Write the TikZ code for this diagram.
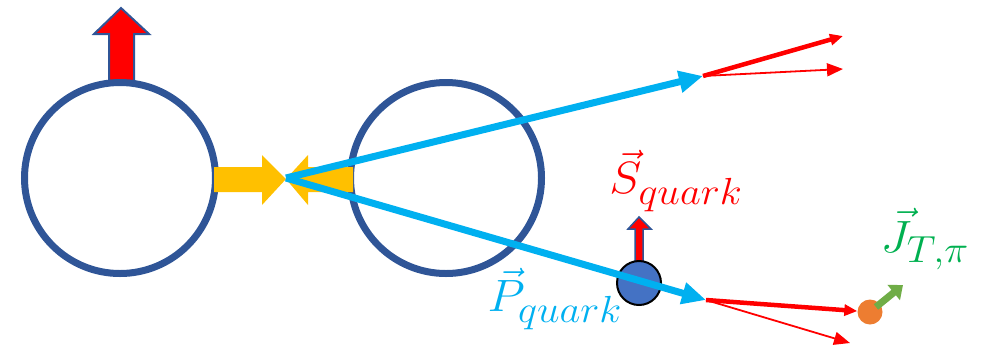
\documentclass[tikz,border=0pt]{standalone}
\usepackage{graphicx}
\usetikzlibrary{arrows.meta}
\definecolor{ringblue}{HTML}{2F5597}
\definecolor{skyblue}{HTML}{00B0F0}
\definecolor{gold}{HTML}{FFC000}
\definecolor{qblue}{HTML}{4472C4}
\definecolor{dotorange}{HTML}{ED7D31}
\definecolor{arrgreen}{HTML}{70AD47}
\definecolor{labgreen}{HTML}{00B050}
\newcommand{\biglab}[1]{\scalebox{1.95}[1.82]{\Huge $#1$}}
\tikzset{
  ring/.style={circle, draw=ringblue, line width=7pt, minimum size=191pt, inner sep=0pt},
  beam/.style={draw=skyblue, line width=7pt, -{Triangle[length=24pt,width=21pt]}, shorten >=0pt},
  jetthick/.style={draw=red, line width=4.5pt, -{Triangle[length=13pt,width=11pt]}},
  jetthin/.style={draw=red, line width=1.8pt, -{Triangle[length=16pt,width=13pt]}},
  yellowarr/.style={fill=gold, draw=none},
  lab/.style={inner sep=0pt},
}
\begin{document}
\begin{tikzpicture}[x=1pt,y=-1pt]
\useasboundingbox (0,0) rectangle (984,349);
% spin arrow on left proton
\filldraw[fill=red, draw=ringblue, line width=2pt, line join=miter]
  (109,84) -- (109,34) -- (94,34) -- (121,8) -- (149,34) -- (134,34) -- (134,84) -- cycle;
% rings
\node[ring] (pL) at (120,178) {};
\node[ring] (pR) at (446,178) {};
% colliding yellow arrows
\fill[yellowarr] (214,167) -- (262,167) -- (262,155) -- (286,179) -- (262,205) -- (262,192) -- (214,192) -- cycle;
\fill[yellowarr] (353,167) -- (308,167) -- (308,155) -- (286,179) -- (308,205) -- (308,192) -- (353,192) -- cycle;
% coordinates
\coordinate (ip) at (286,178);
\coordinate (jU) at (703,76);
\coordinate (jD) at (706,300);
\coordinate (tU1) at (843,36);
\coordinate (tU2) at (843,69);
\coordinate (tD2) at (850,343);
% blue quark beams
\draw[beam] (ip) -- (jU);
% quark with spin
\filldraw[fill=red, draw=ringblue, line width=1.5pt, line join=miter]
  (635,262) -- (635,229) -- (628,229) -- (639,217) -- (651,229) -- (643,229) -- (643,262) -- cycle;
\node[circle, fill=qblue, draw=black, line width=2pt, minimum size=44pt, inner sep=0pt] (q) at (639,283) {};
\draw[beam] (ip) -- (jD);
% jets
\draw[jetthick] (jU) -- (tU1);
\draw[jetthin] (jU) -- (tU2);
\node[circle, fill=dotorange, minimum size=25pt, inner sep=0pt] (pi) at (870,312) {};
\draw[jetthick] (jD) -- (pi);
\draw[jetthin] (jD) -- (tD2);
\coordinate (jT) at (903,285);
\draw[draw=arrgreen, line width=7pt, -{Triangle[length=12pt,width=19pt]}] (pi.center) ++(6,-5) -- (jT);
% labels
\node[lab, text=red] (Sl) at (676,181) {\biglab{\vec{S}_{quark}}};
\node[lab, text=skyblue] (Pl) at (555,299) {\biglab{\vec{P}_{quark}}};
\node[lab, text=labgreen] (Jl) at (925,239) {\biglab{\vec{J}_{T,\pi}}};
\end{tikzpicture}
\end{document}
